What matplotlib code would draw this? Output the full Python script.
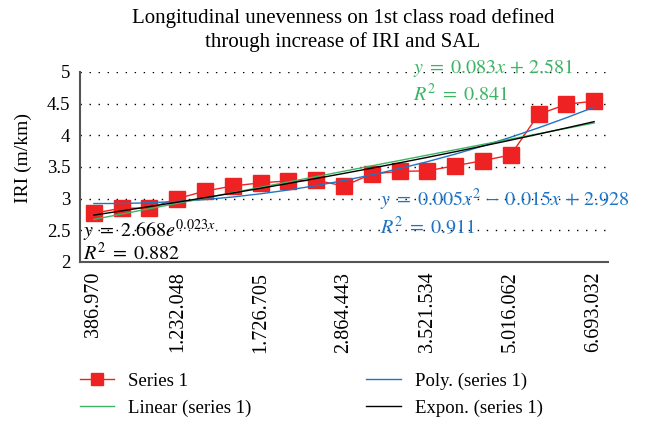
import numpy as np
import matplotlib
matplotlib.use("Agg")
import matplotlib.pyplot as plt

plt.rcParams['font.family'] = ['Liberation Serif', 'DejaVu Serif']
plt.rcParams['mathtext.fontset'] = 'stix'

tick_labels = ["386.970", "1.232.048", "1.726.705", "2.864.443",
               "3.521.534", "5.016.062", "6.693.032"]
iri = [2.77, 2.85, 2.85, 3.00, 3.12, 3.20, 3.25, 3.28, 3.29, 3.20,
       3.39, 3.43, 3.44, 3.52, 3.60, 3.69, 4.33, 4.49, 4.54]

x = np.arange(1, len(iri) + 1)
y = np.array(iri)

lin = np.polyfit(x, y, 1)
poly = np.polyfit(x, y, 2)
expc = np.polyfit(x, np.log(y), 1)

W, H = 647, 421
fig = plt.figure(figsize=(W/100, H/100), dpi=100)
ax = fig.add_axes([80/W, 1 - 262/H, (608-80)/W, (262-72)/H])

red = '#ee2222'
green = '#3cb464'
blue = '#1f74c4'

l_series, = ax.plot(x, y, color=red, lw=1.0, marker='s', ms=11, mec=red, mfc=red,
                    label='Series 1', zorder=3)
l_poly, = ax.plot(x, np.polyval(poly, x), color=blue, lw=1.0, label='Poly. (series 1)', zorder=4)
l_lin, = ax.plot(x, np.polyval(lin, x), color=green, lw=1.0, label='Linear (series 1)', zorder=4)
l_exp, = ax.plot(x, np.exp(np.polyval(expc, x)), color='black', lw=1.0,
                 label='Expon. (series 1)', zorder=5)

ax.set_xlim(0.5, len(iri) + 0.5)
ax.set_ylim(2, 5)
ax.set_yticks([2, 2.5, 3, 3.5, 4, 4.5, 5])
ax.set_yticklabels(["2", "2.5", "3", "3.5", "4", "4.5", "5"], fontsize=13.5)
ax.set_xticks(x[::3])
ax.set_xticklabels(tick_labels, rotation=90, fontsize=14.5)
ax.tick_params(length=0, pad=7)
for yy in [2.5, 3, 3.5, 4, 4.5, 5]:
    ax.axhline(yy, color='black', lw=1.0, ls=(0, (1, 5.5)), zorder=1)
for s in ['top', 'right']:
    ax.spines[s].set_visible(False)
for s in ['left', 'bottom']:
    ax.spines[s].set_color('#555555')
    ax.spines[s].set_linewidth(1.5)

ax.set_ylabel('IRI (m/km)', fontsize=14)
ax.yaxis.set_label_coords(-48/528, (262-158)/190)

fig.text(343/W, 1 - 18/H, 'Longitudinal unevenness on 1st class road defined',
         ha='center', va='center', fontsize=15)
fig.text(343/W, 1 - 42/H, 'through increase of IRI and SAL',
         ha='center', va='center', fontsize=15)

fs = 14.5
def ax_pos(px, py):
    return ((px - 80) / 528, (262 - py) / 190)

ax.text(*ax_pos(413, 68), r'$y\;=\;0.083x\,+\,2.581$', transform=ax.transAxes,
        color=green, fontsize=fs, va='center')
ax.text(*ax_pos(413, 95), r'$R^2\;=\;0.841$', transform=ax.transAxes,
        color=green, fontsize=fs, va='center')
ax.text(*ax_pos(380, 200), r'$y\;=\;0.005x^2\,-\,0.015x\,+\,2.928$', transform=ax.transAxes,
        color=blue, fontsize=fs, va='center')
ax.text(*ax_pos(380, 228), r'$R^2\;=\;0.911$', transform=ax.transAxes,
        color=blue, fontsize=fs, va='center')
ax.text(*ax_pos(83, 231), r'$y\;=\;2.668e^{0.023x}$', transform=ax.transAxes,
        color='black', fontsize=fs, va='center')
ax.text(*ax_pos(83, 254), r'$R^2\;=\;0.882$', transform=ax.transAxes,
        color='black', fontsize=fs, va='center')

leg = fig.legend(handles=[l_series, l_lin, l_poly, l_exp], ncol=2, loc='upper left',
                 bbox_to_anchor=(76/W, 1 - 369/H), frameon=False, fontsize=13.5,
                 handlelength=1.85, columnspacing=6.1, labelspacing=0.5,
                 handletextpad=0.75, borderaxespad=0, borderpad=0.2)
for h in leg.legend_handles:
    h.set_markersize(8)

fig.savefig('out.png', dpi=100)
